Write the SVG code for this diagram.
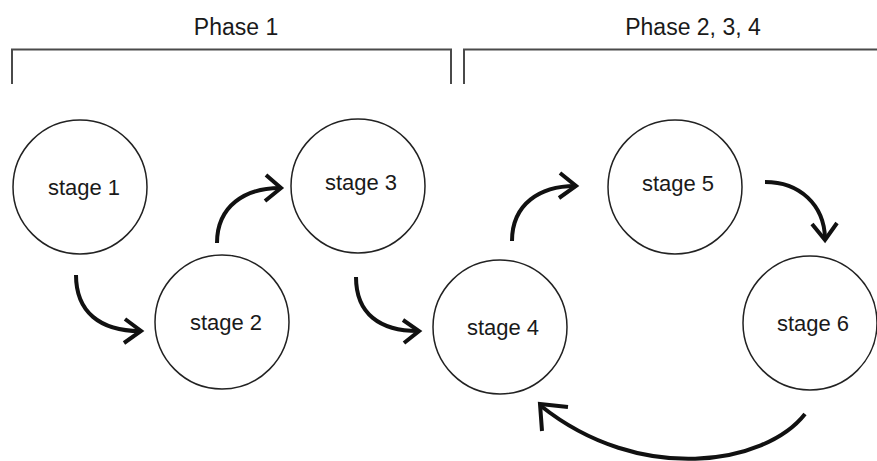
<svg xmlns="http://www.w3.org/2000/svg" width="877" height="461" viewBox="0 0 877 461">
<style>
.t{font-family:"Liberation Sans",Arial,sans-serif;fill:#1a1a1a;text-anchor:middle}
.ph{font-size:23px}
.st{font-size:22px}
.c{fill:#fff;stroke:#222;stroke-width:1.5}
.br{fill:none;stroke:#4a4a4a;stroke-width:2}
.ar{fill:none;stroke:#111;stroke-width:4;stroke-linecap:butt;stroke-linejoin:miter}
</style>
<rect width="877" height="461" fill="#fff"/>
<g id="phase1">
<path class="br" d="M12,84 V49.5 H451 V84"/>
<text class="t ph" x="236" y="35">Phase 1</text>
</g>
<g id="phase234">
<path class="br" d="M464,84 V49.5 H880"/>
<text class="t ph" x="693" y="35">Phase 2, 3, 4</text>
</g>
<g id="stage1"><circle class="c" cx="80" cy="187" r="67"/><text class="t st" x="84" y="195">stage 1</text></g>
<g id="stage2"><circle class="c" cx="222" cy="322" r="67"/><text class="t st" x="226" y="330">stage 2</text></g>
<g id="stage3"><circle class="c" cx="358" cy="186" r="67"/><text class="t st" x="361" y="190">stage 3</text></g>
<g id="stage4"><circle class="c" cx="500" cy="327" r="67"/><text class="t st" x="503" y="335">stage 4</text></g>
<g id="stage5"><circle class="c" cx="675" cy="187" r="67"/><text class="t st" x="678" y="191">stage 5</text></g>
<g id="stage6"><circle class="c" cx="810" cy="323" r="67"/><text class="t st" x="813" y="331">stage 6</text></g>
<g id="connectors">
<path class="ar" d="M76,275 C76,312 100,331 140,331"/>
<path class="ar" d="M125,319 L141,331 L124,343"/>
<path class="ar" d="M217,243 C217,206 245,188 280,188"/>
<path class="ar" d="M266,175 L281,188 L265,201"/>
<path class="ar" d="M356,277 C356,314 380,331 418,331"/>
<path class="ar" d="M403,320 L419,331 L404,343"/>
<path class="ar" d="M512,241 C512,204 540,186 575,186"/>
<path class="ar" d="M560,173 L576,186 L559,198"/>
<path class="ar" d="M765,182 C800,182 824,205 825,238"/>
<path class="ar" d="M812,224 L825,240 L837,223"/>
<path class="ar" d="M805,414 C765,465 640,485 541,406"/>
<path class="ar" d="M568,407 L540,404 L542,431"/>
</g>
</svg>
